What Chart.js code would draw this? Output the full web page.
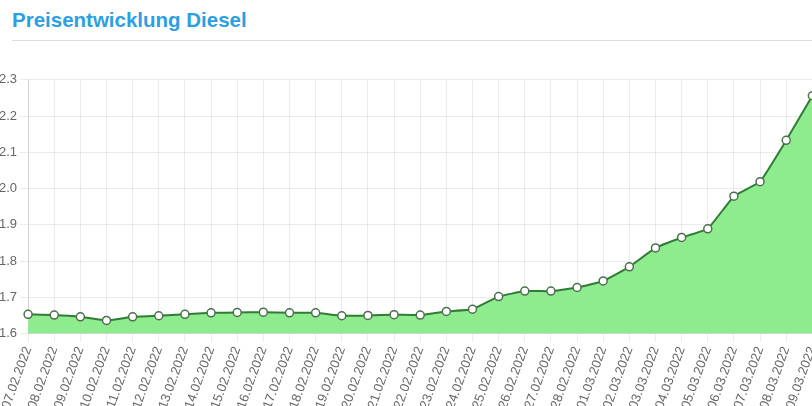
<!DOCTYPE html>
<html>
<head>
<meta charset="utf-8">
<script src="https://cdn.jsdelivr.net/npm/chart.js@4.4.1/dist/chart.umd.min.js"></script>
<style>
  html, body { margin: 0; padding: 0; background: #fff; overflow: hidden; width: 812px; height: 406px; }
  h3 {
    position: absolute; left: 12px; top: 8px; margin: 0;
    font: bold 20.5px Arial, "Liberation Sans", sans-serif; color: #2d9fe0;
  }
  .rule { position: absolute; left: 12px; top: 40px; width: 800px; height: 1px; background: #ddd; }
  .wrap { position: absolute; left: -4px; top: 69px; width: 834px; height: 345px; }
</style>
</head>
<body>
<h3>Preisentwicklung Diesel</h3>
<div class="rule"></div>
<div class="wrap"><canvas id="dieselChart"></canvas></div>
<script>
var dates = [
  "07.02.2022", "08.02.2022", "09.02.2022", "10.02.2022", "11.02.2022", "12.02.2022",
  "13.02.2022", "14.02.2022", "15.02.2022", "16.02.2022", "17.02.2022", "18.02.2022",
  "19.02.2022", "20.02.2022", "21.02.2022", "22.02.2022", "23.02.2022", "24.02.2022",
  "25.02.2022", "26.02.2022", "27.02.2022", "28.02.2022", "01.03.2022", "02.03.2022",
  "03.03.2022", "04.03.2022", "05.03.2022", "06.03.2022", "07.03.2022", "08.03.2022",
  "09.03.2022"
];
var prices = [
  1.653, 1.651, 1.646, 1.636, 1.646, 1.649, 1.653, 1.657, 1.658, 1.659, 1.657, 1.657,
  1.649, 1.650, 1.652, 1.651, 1.661, 1.667, 1.702, 1.717, 1.717, 1.727, 1.745, 1.784,
  1.836, 1.865, 1.889, 1.979, 2.019, 2.133, 2.256
];
var yMin = 1.6, yMax = 2.3, yStep = 0.1;

Chart.defaults.font.family = "Arial, 'Liberation Sans', sans-serif";
Chart.defaults.font.size = 13;
Chart.defaults.color = "#666";

new Chart(document.getElementById("dieselChart"), {
  type: "line",
  data: {
    labels: dates,
    datasets: [{
      data: prices,
      fill: "start",
      backgroundColor: "#8eec8e",
      borderColor: "#2f7d35",
      borderWidth: 2,
      tension: 0.1,
      pointRadius: 4,
      pointBorderWidth: 1.5,
      pointBackgroundColor: "#fff",
      pointBorderColor: "#4d6e4f"
    }]
  },
  options: {
    responsive: true,
    maintainAspectRatio: false,
    animation: false,
    layout: { padding: 0 },
    plugins: { legend: { display: false }, tooltip: { enabled: false } },
    scales: {
      x: {
        grid: { color: "rgba(0,0,0,0.08)", tickLength: 8 },
        border: { color: "rgba(0,0,0,0.1)" },
        ticks: { minRotation: 70, maxRotation: 70, autoSkip: false }
      },
      y: {
        min: yMin,
        max: yMax,
        grid: { color: "rgba(0,0,0,0.08)", tickLength: 8 },
        border: { color: "rgba(0,0,0,0.1)" },
        ticks: {
          stepSize: yStep,
          callback: function (v) { return v.toFixed(1); }
        }
      }
    }
  }
});
</script>
</body>
</html>
